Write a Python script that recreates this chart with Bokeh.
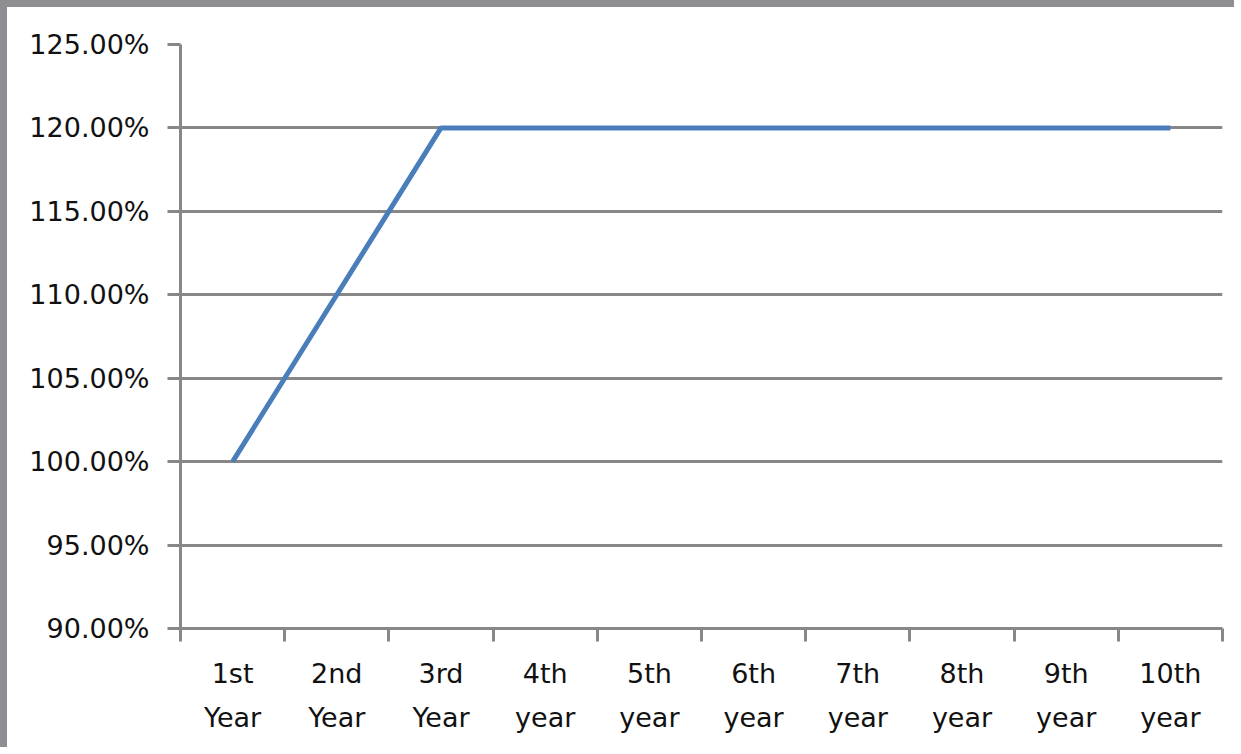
from bokeh.plotting import figure
from bokeh.models import Range1d, FixedTicker, LinearAxis, PrintfTickFormatter
from bokeh.embed import file_html
from bokeh.resources import INLINE

# ---- data ----
label_top = ["1st", "2nd", "3rd", "4th", "5th", "6th", "7th", "8th", "9th", "10th"]
label_bottom = ["Year", "Year", "Year", "year", "year", "year", "year", "year", "year", "year"]
values = [100, 110, 120, 120, 120, 120, 120, 120, 120, 120]
y_ticks = [90, 95, 100, 105, 110, 115, 120, 125]

n = len(values)
xs = list(range(n))
bounds = [i - 0.5 for i in range(n + 1)]

FONT = "DejaVu Sans"
FS = "27px"
GRID = "#878787"

p = figure(width=1234, height=747, output_backend="svg", toolbar_location=None,
           x_range=Range1d(-0.5, n - 0.5), y_range=Range1d(90, 125),
           min_border_left=173, min_border_right=19, min_border_top=37, min_border_bottom=126)
p.styles = {"border-top": "7px solid #8e8d92", "border-left": "7px solid #8e8d92"}
p.outline_line_color = None
p.background_fill_color = "white"
p.border_fill_color = "white"

# y axis
ya = p.yaxis[0]
ya.ticker = FixedTicker(ticks=y_ticks)
ya.formatter = PrintfTickFormatter(format="%.2f%%")
ya.major_tick_out = 13
ya.major_tick_in = 0
ya.minor_tick_line_color = None
ya.major_tick_line_color = GRID
ya.major_tick_line_width = 3
ya.axis_line_color = GRID
ya.axis_line_width = 3
ya.major_label_standoff = 18
ya.major_label_text_font = FONT
ya.major_label_text_font_size = FS
ya.major_label_text_color = "#111111"

p.ygrid.ticker = FixedTicker(ticks=y_ticks)
p.ygrid.grid_line_color = GRID
p.ygrid.grid_line_width = 3
p.xgrid.visible = False

# x axis (first line of labels + category separator ticks)
xa = p.xaxis[0]
xa.ticker = FixedTicker(ticks=xs, minor_ticks=bounds)
xa.major_label_overrides = {i: label_top[i] for i in xs}
xa.major_tick_out = 13
xa.major_tick_in = 0
xa.major_tick_line_color = None
xa.minor_tick_out = 13
xa.minor_tick_in = 0
xa.minor_tick_line_color = GRID
xa.minor_tick_line_width = 3
xa.axis_line_color = GRID
xa.axis_line_width = 3
xa.major_label_standoff = 16
xa.major_label_text_font = FONT
xa.major_label_text_font_size = FS
xa.major_label_text_color = "#111111"

# second line of labels
xb = LinearAxis(ticker=FixedTicker(ticks=xs))
xb.major_label_overrides = {i: label_bottom[i] for i in xs}
xb.axis_line_color = None
xb.major_tick_line_color = None
xb.minor_tick_line_color = None
xb.major_tick_out = 0
xb.major_tick_in = 0
xb.major_label_standoff = 10
xb.major_label_text_font = FONT
xb.major_label_text_font_size = FS
xb.major_label_text_color = "#111111"
p.add_layout(xb, "below")

p.line(xs, values, line_color="#4a7ebb", line_width=5)

open("out.html", "w").write(file_html(p, INLINE))
